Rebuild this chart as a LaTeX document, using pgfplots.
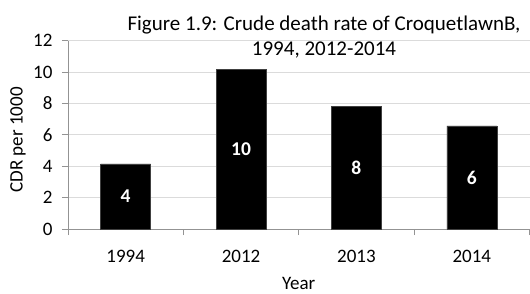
\documentclass[border=0pt]{standalone}
\usepackage{fontspec}
\setmainfont{Carlito}
\usepackage{pgfplots}
\pgfplotsset{compat=1.18}
\begin{document}
\begin{tikzpicture}[font=\fontsize{19}{23}\selectfont]
\begin{axis}[
  at={(0,0)}, anchor=south west,
  width=461.5pt, height=188.5pt, scale only axis,
  xmin=-0.5, xmax=3.5, ymin=0, ymax=12,
  ytick={0,2,...,12},
  ymajorgrids, grid style={draw=gray!28, line width=0.8pt},
  xtick={-0.5,0.5,1.5,2.5,3.5}, x tick label as interval,
  xticklabels={1994,2012,2013,2014},
  axis x line=bottom, axis y line=left,
  axis line style={-, draw=gray!85, line width=0.8pt},
  tick style={draw=gray!85, line width=0.8pt},
  tick align=outside, major tick length=6pt,
  /pgf/number format/assume math mode=true,
  yticklabel style={xshift=-6pt},
  xticklabel style={yshift=-12pt},
  clip=false,
]
\addplot[ybar, bar width=50pt, fill=black, draw=gray!50!black, line width=0.6pt,
  point meta=explicit symbolic,
  visualization depends on={y \as \rawy},
  nodes near coords,
  every node near coord/.append style={white, font=\fontsize{19.5}{23}\selectfont\bfseries, anchor=center, shift={(axis direction cs:0,-\rawy/2)}},
] coordinates {(0,4.14)[4] (1,10.15)[10] (2,7.83)[8] (3,6.56)[6]};
\end{axis}
\node[align=center, font=\fontsize{21}{25}\selectfont] at (256pt,192pt) {Figure 1.9: Crude death rate of CroquetlawnB,\\1994, 2012-2014};
\node[rotate=90] at (-50pt,89pt) {CDR per 1000};
\node at (230.75pt,-54pt) {Year};
\pgfresetboundingbox
\path[use as bounding box] (-68pt,-64pt) rectangle (462pt,229pt);
\end{tikzpicture}
\end{document}
